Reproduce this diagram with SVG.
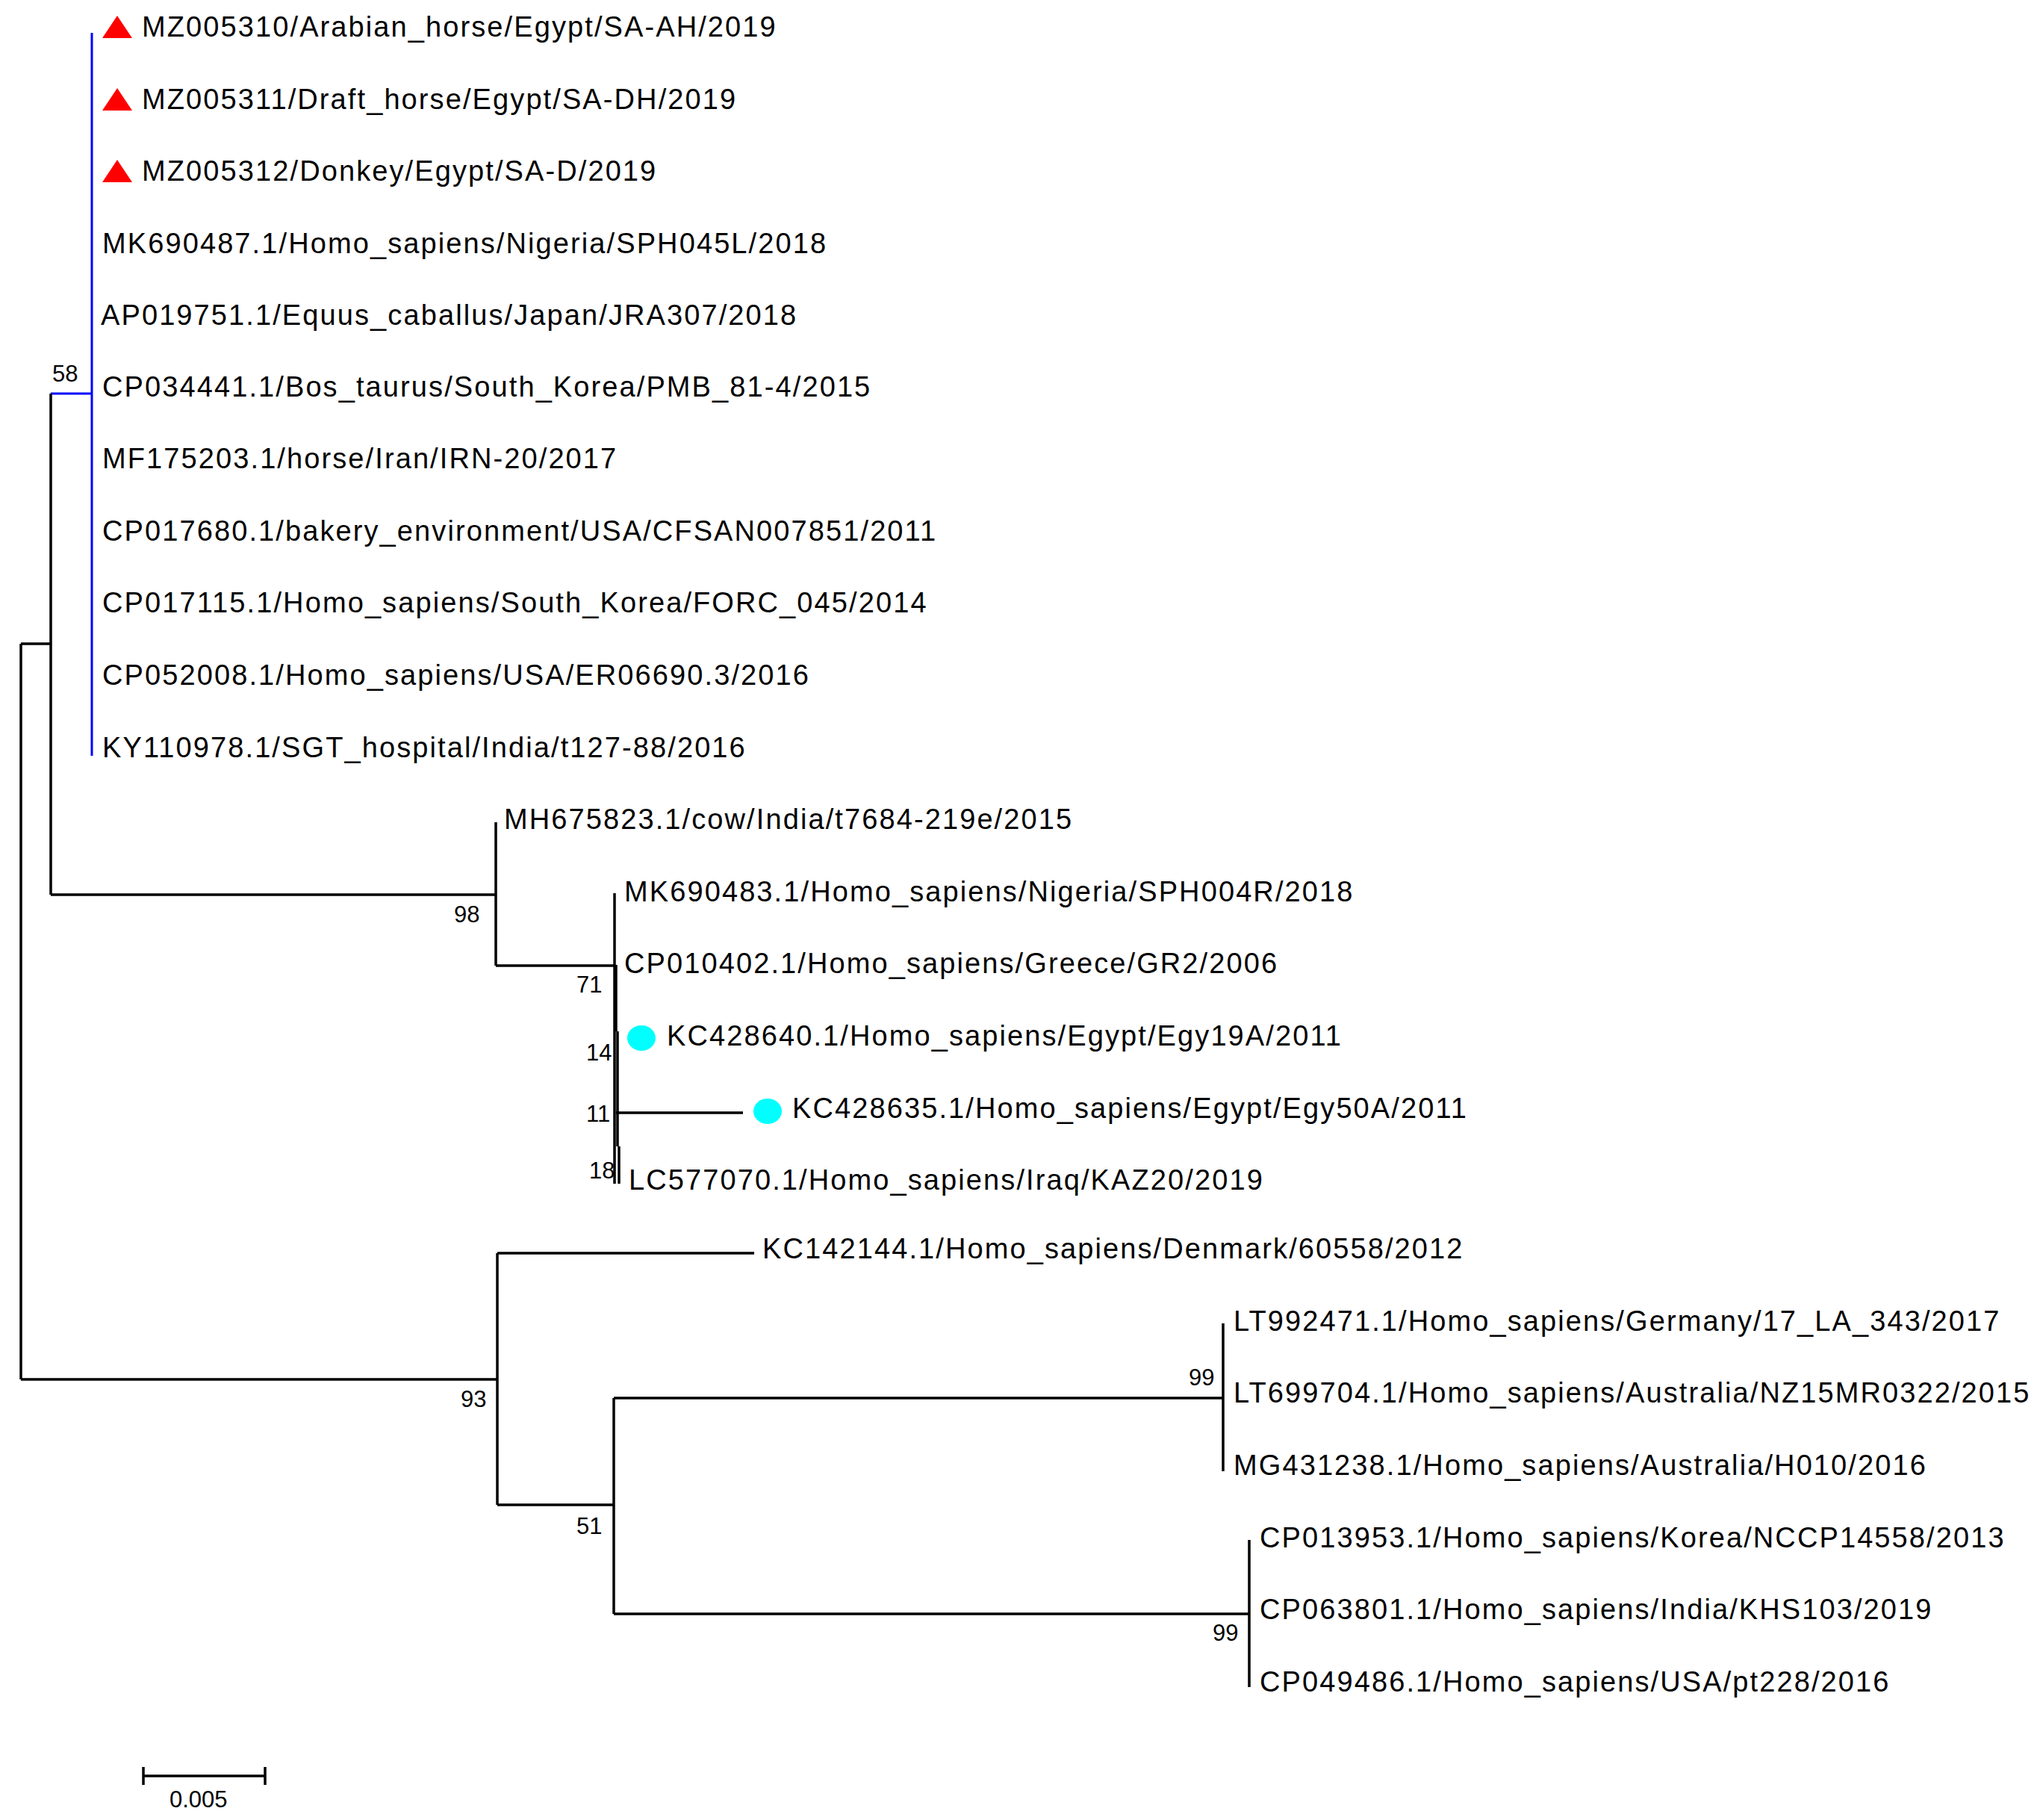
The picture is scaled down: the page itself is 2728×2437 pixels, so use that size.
<svg xmlns="http://www.w3.org/2000/svg" width="2728" height="2437" viewBox="0 0 2728 2437">
<style>
text{font-family:"Liberation Sans",Arial,sans-serif;fill:#000}
.l{font-size:38px;letter-spacing:2.1px}
.b{font-size:31px}
.e{stroke:#000;stroke-width:3.5;fill:none}
.bl{stroke:#0000ff;stroke-width:3;fill:none}
</style>
<defs>
<path id="tri" d="M0,0 L20,-30 L40,0 Z" fill="#ff0000"/>
</defs>
<rect width="2728" height="2437" fill="#fff"/>
<g id="connectors">
<path class="bl" d="M123,44 V1012 M68,527 H123"/>
<path class="e" d="M68,527 V1198 M28,862 H68 M28,862 V1847 M68,1198 H664 M664,1101 V1293 M664,1293 H823 M823,1196 V1585 M825,1292 V1381 M827,1381 V1535 M829,1535 V1585 M825,1490 H995"/>
<path class="e" d="M28,1847 H666 M666,1678 V2015 M666,1678 H1010 M666,2015 H822 M822,1872 V2161 M822,1872 H1638 M1638,1772 V1970 M822,2161 H1673 M1673,2062 V2259"/>
<path class="e" d="M192,2378 H355 M192,2366 V2390 M355,2366 V2390"/>
</g>
<g id="labels">
<text class="b" x="70" y="511">58</text>
<text class="b" x="608" y="1235">98</text>
<text class="b" x="772" y="1329">71</text>
<text class="b" x="785" y="1420">14</text>
<text class="b" x="785" y="1502">11</text>
<text class="b" x="789" y="1578">18</text>
<text class="b" x="617" y="1884">93</text>
<text class="b" x="772" y="2054">51</text>
<text class="b" x="1592" y="1855">99</text>
<text class="b" x="1624" y="2197">99</text>
<text class="b" x="227" y="2420">0.005</text>
</g>
<g id="n1"><use href="#tri" x="137" y="51"/><text class="l" x="190" y="49">MZ005310/Arabian_horse/Egypt/SA-AH/2019</text></g>
<g id="n2"><use href="#tri" x="137" y="148"/><text class="l" x="190" y="146">MZ005311/Draft_horse/Egypt/SA-DH/2019</text></g>
<g id="n3"><use href="#tri" x="137" y="244"/><text class="l" x="190" y="242">MZ005312/Donkey/Egypt/SA-D/2019</text></g>
<g id="n4"><text class="l" x="137" y="339">MK690487.1/Homo_sapiens/Nigeria/SPH045L/2018</text></g>
<g id="n5"><text class="l" x="135" y="435">AP019751.1/Equus_caballus/Japan/JRA307/2018</text></g>
<g id="n6"><text class="l" x="137" y="531">CP034441.1/Bos_taurus/South_Korea/PMB_81-4/2015</text></g>
<g id="n7"><text class="l" x="137" y="627">MF175203.1/horse/Iran/IRN-20/2017</text></g>
<g id="n8"><text class="l" x="137" y="724">CP017680.1/bakery_environment/USA/CFSAN007851/2011</text></g>
<g id="n9"><text class="l" x="137" y="820">CP017115.1/Homo_sapiens/South_Korea/FORC_045/2014</text></g>
<g id="n10"><text class="l" x="137" y="917">CP052008.1/Homo_sapiens/USA/ER06690.3/2016</text></g>
<g id="n11"><text class="l" x="137" y="1014">KY110978.1/SGT_hospital/India/t127-88/2016</text></g>
<g id="n12"><text class="l" x="675" y="1110">MH675823.1/cow/India/t7684-219e/2015</text></g>
<g id="n13"><text class="l" x="836" y="1207">MK690483.1/Homo_sapiens/Nigeria/SPH004R/2018</text></g>
<g id="n14"><text class="l" x="836" y="1303">CP010402.1/Homo_sapiens/Greece/GR2/2006</text></g>
<g id="n15"><ellipse cx="859" cy="1390" rx="19" ry="17" fill="#00ffff"/><text class="l" x="893" y="1400">KC428640.1/Homo_sapiens/Egypt/Egy19A/2011</text></g>
<g id="n16"><ellipse cx="1028" cy="1488" rx="19" ry="17" fill="#00ffff"/><text class="l" x="1061" y="1497">KC428635.1/Homo_sapiens/Egypt/Egy50A/2011</text></g>
<g id="n17"><text class="l" x="842" y="1593">LC577070.1/Homo_sapiens/Iraq/KAZ20/2019</text></g>
<g id="n18"><text class="l" x="1021" y="1685">KC142144.1/Homo_sapiens/Denmark/60558/2012</text></g>
<g id="n19"><text class="l" x="1652" y="1782">LT992471.1/Homo_sapiens/Germany/17_LA_343/2017</text></g>
<g id="n20"><text class="l" x="1652" y="1878">LT699704.1/Homo_sapiens/Australia/NZ15MR0322/2015</text></g>
<g id="n21"><text class="l" x="1652" y="1975">MG431238.1/Homo_sapiens/Australia/H010/2016</text></g>
<g id="n22"><text class="l" x="1687" y="2072">CP013953.1/Homo_sapiens/Korea/NCCP14558/2013</text></g>
<g id="n23"><text class="l" x="1687" y="2168">CP063801.1/Homo_sapiens/India/KHS103/2019</text></g>
<g id="n24"><text class="l" x="1687" y="2265">CP049486.1/Homo_sapiens/USA/pt228/2016</text></g>
</svg>
